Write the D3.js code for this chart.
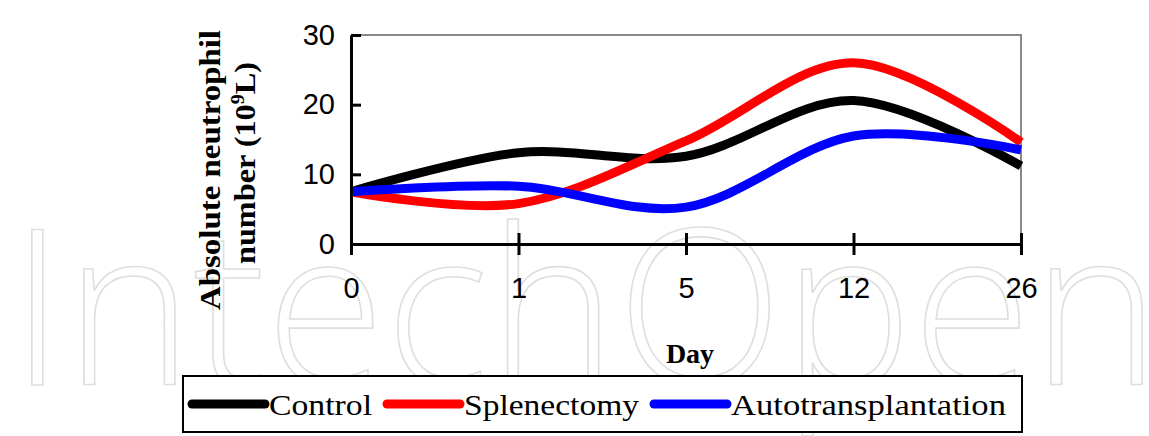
<!DOCTYPE html>
<html>
<head>
<meta charset="utf-8">
<script src="https://cdn.jsdelivr.net/npm/d3@7"></script>
<style>
  body { margin: 0; background: #fff; }
  svg { display: block; }
</style>
</head>
<body>
<svg id="chart"></svg>
<script>
// data
const days = ['0', '1', '5', '12', '26'];
const control = [7.5, 13.1, 12.6, 20.6, 11.2];
const splenectomy = [7.5, 5.8, 14.8, 26.0, 14.6];
const autotransplantation = [7.5, 8.3, 5.3, 15.5, 13.5];
const yTicks = [0, 10, 20, 30];

const seriesNames = ['Control', 'Splenectomy', 'Autotransplantation'];
const seriesColors = ['#000000', '#ff0000', '#0000ff'];
const series = [control, splenectomy, autotransplantation];

const width = 1149, height = 436;
const margin = { left: 351, right: 128, top: 35, bottom: 192 };

const svg = d3.select('#chart')
    .attr('width', width)
    .attr('height', height);

// faint outlined watermark behind the chart
svg.append('text')
    .attr('x', 10)
    .attr('y', 385)
    .attr('textLength', 1150)
    .attr('lengthAdjust', 'spacingAndGlyphs')
    .attr('font-family', 'Open Sans, sans-serif')
    .attr('font-weight', 300)
    .attr('font-size', 218)
    .attr('fill', 'none')
    .attr('stroke', '#dedede')
    .attr('stroke-width', 1.6)
    .text('IntechOpen');

const x = d3.scalePoint()
    .domain(days)
    .range([margin.left, width - margin.right]);

const y = d3.scaleLinear()
    .domain([0, 30])
    .range([height - margin.bottom, margin.top]);

// plot frame (top and right in grey)
svg.append('path')
    .attr('d', `M${x.range()[0]},${y(30)}H${x.range()[1]}V${y(0)}`)
    .attr('fill', 'none')
    .attr('stroke', '#888')
    .attr('stroke-width', 2);

const line = d3.line()
    .x((d, i) => x(days[i]))
    .y(d => y(d))
    .curve(d3.curveCatmullRom.alpha(0));

svg.selectAll('.series')
    .data(series)
    .join('path')
    .attr('class', 'series')
    .attr('d', line)
    .attr('fill', 'none')
    .attr('stroke', (d, i) => seriesColors[i])
    .attr('stroke-width', 9)
    .attr('stroke-linecap', 'butt');

// y axis, ticks crossing the line
const yAxis = svg.append('g')
    .attr('transform', `translate(${margin.left},0)`)
    .call(d3.axisLeft(y).tickValues(yTicks).tickSize(10).tickSizeOuter(0).tickPadding(6));
yAxis.select('.domain').attr('stroke-width', 3);
yAxis.selectAll('.tick line').attr('x2', 10).attr('stroke-width', 3);
yAxis.selectAll('.tick text')
    .attr('font-family', 'Liberation Sans, Arial, sans-serif')
    .attr('font-size', 29)
    .attr('fill', '#000');

// x axis
const xAxis = svg.append('g')
    .attr('transform', `translate(0,${y(0)})`)
    .call(d3.axisBottom(x).tickSize(11).tickSizeOuter(0).tickPadding(22));
xAxis.select('.domain').attr('stroke-width', 3);
xAxis.selectAll('.tick line').attr('y1', -11).attr('stroke-width', 3);
xAxis.selectAll('.tick text')
    .attr('font-family', 'Liberation Sans, Arial, sans-serif')
    .attr('font-size', 29)
    .attr('fill', '#000');

// axis titles
svg.append('text')
    .attr('x', 690)
    .attr('y', 363)
    .attr('text-anchor', 'middle')
    .attr('font-family', 'Liberation Serif, Times New Roman, serif')
    .attr('font-weight', 'bold')
    .attr('font-size', 28)
    .text('Day');

svg.append('text')
    .attr('transform', 'translate(220,170) rotate(-90)')
    .attr('text-anchor', 'middle')
    .attr('textLength', 280)
    .attr('lengthAdjust', 'spacingAndGlyphs')
    .attr('font-family', 'Liberation Serif, Times New Roman, serif')
    .attr('font-weight', 'bold')
    .attr('font-size', 29)
    .text('Absolute neutrophil');

const yTitle2 = svg.append('text')
    .attr('transform', 'translate(255,163) rotate(-90)')
    .attr('text-anchor', 'middle')
    .attr('textLength', 202)
    .attr('lengthAdjust', 'spacingAndGlyphs')
    .attr('font-family', 'Liberation Serif, Times New Roman, serif')
    .attr('font-weight', 'bold')
    .attr('font-size', 29);
yTitle2.append('tspan').text('number (10');
yTitle2.append('tspan').attr('font-size', 18).attr('dy', -11).text('9');
yTitle2.append('tspan').attr('dy', 11).text('L)');

// legend
svg.append('rect')
    .attr('x', 183)
    .attr('y', 376)
    .attr('width', 839)
    .attr('height', 56)
    .attr('fill', '#fff')
    .attr('stroke', '#000')
    .attr('stroke-width', 2);

const legendX = [192, 387, 654];
const legendTextW = [103, 175, 275];
const legend = svg.selectAll('.legend-item')
    .data(seriesNames)
    .join('g')
    .attr('class', 'legend-item')
    .attr('transform', (d, i) => `translate(${legendX[i]},404)`);

legend.append('line')
    .attr('x1', 0).attr('x2', 73)
    .attr('stroke', (d, i) => seriesColors[i])
    .attr('stroke-width', 9)
    .attr('stroke-linecap', 'round');

legend.append('text')
    .attr('x', 77)
    .attr('y', 11)
    .attr('textLength', (d, i) => legendTextW[i])
    .attr('lengthAdjust', 'spacingAndGlyphs')
    .attr('font-family', 'Liberation Serif, Times New Roman, serif')
    .attr('font-size', 30)
    .text(d => d);
</script>
</body>
</html>
